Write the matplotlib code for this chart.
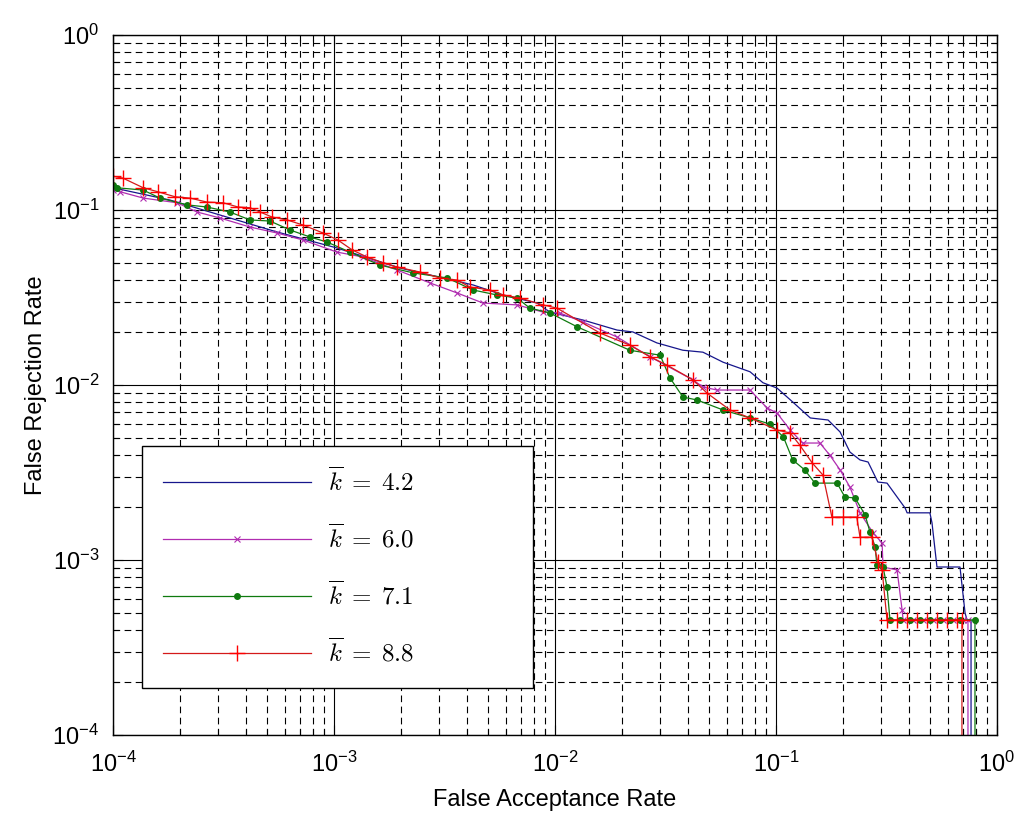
import matplotlib
matplotlib.use("Agg")
import matplotlib.pyplot as plt
from matplotlib.font_manager import FontProperties
from matplotlib.ticker import LogLocator

# ROC curves (FAR on x, FRR on y); last point = FRR 0
far_b = [1.00e-4, 1.81e-4, 3.05e-4, 5.52e-4, 1.03e-3, 1.99e-3, 4.26e-3, 5.82e-3,
         8.29e-3, 9.49e-3, 1.34e-2, 1.91e-2, 2.25e-2, 2.89e-2, 3.79e-2, 4.67e-2,
         5.76e-2, 7.63e-2, 8.73e-2, 0.101, 0.119, 0.143, 0.172, 0.195, 0.216,
         0.240, 0.261, 0.289, 0.318, 0.384, 0.392, 0.497, 0.508, 0.535, 0.680,
         0.717, 0.732, 0.763, 0.763]
frr_b = [0.134, 0.114, 0.0936, 0.0749, 0.0607, 0.0466, 0.0373, 0.0327,
         0.0294, 0.0261, 0.0235, 0.0206, 0.0201, 0.0174, 0.0158, 0.0154,
         0.0135, 0.0119, 0.0103, 0.00961, 0.00800, 0.00648, 0.00631, 0.00539, 0.00414,
         0.00373, 0.00363, 0.00279, 0.00275, 0.00198, 0.00186, 0.00186, 0.00163, 0.000912, 0.000912,
         0.000498, 0.000454, 0.000454, 0]

far_p = [1.00e-4, 1.08e-4, 1.37e-4, 1.95e-4, 2.40e-4, 3.05e-4, 4.17e-4, 5.52e-4,
         7.24e-4, 1.03e-3, 1.35e-3, 1.93e-3, 2.72e-3, 3.60e-3, 4.72e-3, 6.73e-3,
         8.82e-3, 1.05e-2, 1.34e-2, 1.91e-2, 2.69e-2, 4.21e-2, 4.67e-2, 5.41e-2,
         7.63e-2, 9.11e-2, 0.101, 0.116, 0.132, 0.158, 0.175, 0.195, 0.216, 0.240,
         0.275, 0.302, 0.305, 0.353, 0.372, 0.376, 0.417, 0.463, 0.513, 0.570,
         0.632, 0.702, 0.739, 0.739]
frr_p = [0.130, 0.127, 0.117, 0.110, 0.0974, 0.0900, 0.0799, 0.0739,
         0.0674, 0.0575, 0.0539, 0.0454, 0.0383, 0.0336, 0.0294, 0.0287,
         0.0261, 0.0258, 0.0229, 0.0188, 0.0145, 0.0107, 0.00974, 0.00936,
         0.00936, 0.00739, 0.00692, 0.00553, 0.00466, 0.00466, 0.00398, 0.00327, 0.00261, 0.00186,
         0.00143, 0.00125, 0.000912, 0.000877, 0.000518, 0.000454, 0.000454, 0.000454, 0.000454, 0.000454,
         0.000454, 0.000454, 0.000454, 0]

far_g = [1.00e-4, 1.04e-4, 1.37e-4, 1.63e-4, 2.16e-4, 2.66e-4, 3.38e-4, 4.17e-4,
         5.13e-4, 6.32e-4, 7.79e-4, 9.30e-4, 1.18e-3, 1.61e-3, 2.28e-3, 3.25e-3,
         4.26e-3, 5.46e-3, 6.73e-3, 7.70e-3, 9.49e-3, 1.26e-2, 2.18e-2, 2.99e-2,
         3.31e-2, 3.79e-2, 4.39e-2, 5.76e-2, 7.63e-2, 9.39e-2, 0.108, 0.119, 0.135,
         0.150, 0.189, 0.205, 0.228, 0.253, 0.266, 0.281, 0.286, 0.305, 0.318,
         0.328, 0.364, 0.404, 0.448, 0.497, 0.552, 0.613, 0.680, 0.795, 0.795]
frr_g = [0.139, 0.134, 0.130, 0.117, 0.107, 0.104, 0.0974, 0.0877,
         0.0865, 0.0769, 0.0701, 0.0656, 0.0575, 0.0485, 0.0437, 0.0409,
         0.0349, 0.0327, 0.0314, 0.0275, 0.0258, 0.0215, 0.0158, 0.0148,
         0.0110, 0.00854, 0.00821, 0.00720, 0.00648, 0.00598, 0.00505, 0.00373, 0.00327,
         0.00275, 0.00275, 0.00229, 0.00226, 0.00181, 0.00145, 0.00119, 0.000936, 0.000912, 0.000701,
         0.000454, 0.000454, 0.000454, 0.000454, 0.000454, 0.000454, 0.000454, 0.000454, 0.000454, 0]

far_r = [1.00e-4, 1.11e-4, 1.37e-4, 1.60e-4, 1.91e-4, 2.23e-4, 2.66e-4, 3.15e-4,
         3.68e-4, 4.17e-4, 4.63e-4, 5.24e-4, 6.13e-4, 7.24e-4, 8.92e-4, 1.04e-3,
         1.21e-3, 1.41e-3, 1.67e-3, 1.93e-3, 2.45e-3, 3.02e-3, 3.60e-3, 4.12e-3,
         5.08e-3, 5.82e-3, 6.94e-3, 8.82e-3, 1.02e-2, 1.60e-2, 2.18e-2, 2.69e-2,
         3.21e-2, 4.21e-2, 4.87e-2, 6.19e-2, 7.63e-2, 0.101, 0.116, 0.128, 0.146,
         0.163, 0.179, 0.201, 0.232, 0.240, 0.272, 0.289, 0.302, 0.318, 0.353,
         0.392, 0.435, 0.482, 0.535, 0.594, 0.659, 0.694, 0.694]
frr_r = [0.156, 0.152, 0.134, 0.127, 0.119, 0.117, 0.111, 0.110,
         0.104, 0.103, 0.0974, 0.0912, 0.0877, 0.0821, 0.0739, 0.0674,
         0.0591, 0.0539, 0.0498, 0.0472, 0.0442, 0.0409, 0.0398, 0.0363,
         0.0349, 0.0327, 0.0314, 0.0287, 0.0275, 0.0198, 0.0169, 0.0145,
         0.0130, 0.0107, 0.00900, 0.00720, 0.00648, 0.00553, 0.00532, 0.00454, 0.00358,
         0.00306, 0.00176, 0.00176, 0.00176, 0.00135, 0.00135, 0.000974, 0.000877, 0.000454, 0.000454,
         0.000454, 0.000454, 0.000454, 0.000454, 0.000454, 0.000454, 0.000454, 0]

labels = [r'$\overline{k}\;=\;4.2$', r'$\overline{k}\;=\;6.0$',
          r'$\overline{k}\;=\;7.1$', r'$\overline{k}\;=\;8.8$']

plt.rcParams['font.family'] = 'Liberation Sans'
plt.rcParams['mathtext.fontset'] = 'custom'
plt.rcParams['mathtext.rm'] = 'Liberation Sans'
plt.rcParams['mathtext.it'] = 'Liberation Sans:italic'
plt.rcParams['axes.unicode_minus'] = False

fig = plt.figure(figsize=(10.24, 8.25), dpi=100)
ax = fig.add_axes([113 / 1024, 90 / 825, 884 / 1024, 700 / 825])

ax.plot(far_b, frr_b, color='#16168c', lw=0.9, label=labels[0])
ax.plot(far_p, frr_p, color='#b02cb0', lw=0.9, marker='x', ms=4, mew=0.8,
        label=labels[1])
ax.plot(far_g, frr_g, color='#0f7a0f', lw=0.9, marker='.', ms=8,
        label=labels[2])
ax.plot(far_r, frr_r, color='#d41a1a', lw=0.9, marker='+', ms=11, mew=1.0,
        mec='#ff0000', label=labels[3])

ax.set_xscale('log')
ax.set_yscale('log')
ax.set_xlim(1e-4, 1)
ax.set_ylim(1e-4, 1)

for axis in (ax.xaxis, ax.yaxis):
    axis.set_major_locator(LogLocator(base=10, numticks=10))
    axis.set_minor_locator(LogLocator(base=10, subs=range(2, 10), numticks=20))

ax.grid(which='major', color='k', ls='-', lw=0.8)
ax.grid(which='minor', color='k', ls=(0, (6, 4)), lw=0.8)
ax.set_axisbelow(True)

ax.tick_params(which='both', direction='in', top=True, right=True,
               colors='k', labelsize=17)
ax.tick_params(which='major', length=7, width=0.8)
ax.tick_params(which='minor', length=4, width=0.8)
ax.tick_params(axis='x', pad=12)
ax.tick_params(axis='y', pad=10)
for s in ax.spines.values():
    s.set_color('k')
    s.set_linewidth(1.0)

ax.set_xlabel('False Acceptance Rate', fontsize=17, labelpad=9)
ax.set_ylabel('False Rejection Rate', fontsize=17, labelpad=4)

leg = ax.legend(loc='lower left', bbox_to_anchor=(0.0328, 0.0671, 0.4423, 0.34),
                mode='expand', borderaxespad=0,
                prop=FontProperties(size=18, math_fontfamily='cm'),
                handlelength=5.9, handletextpad=0.7, borderpad=0.85,
                labelspacing=1.15, fancybox=False, framealpha=1)
leg.get_frame().set_edgecolor('k')
leg.get_frame().set_linewidth(1.0)

fig.savefig('out.png', dpi=100)
